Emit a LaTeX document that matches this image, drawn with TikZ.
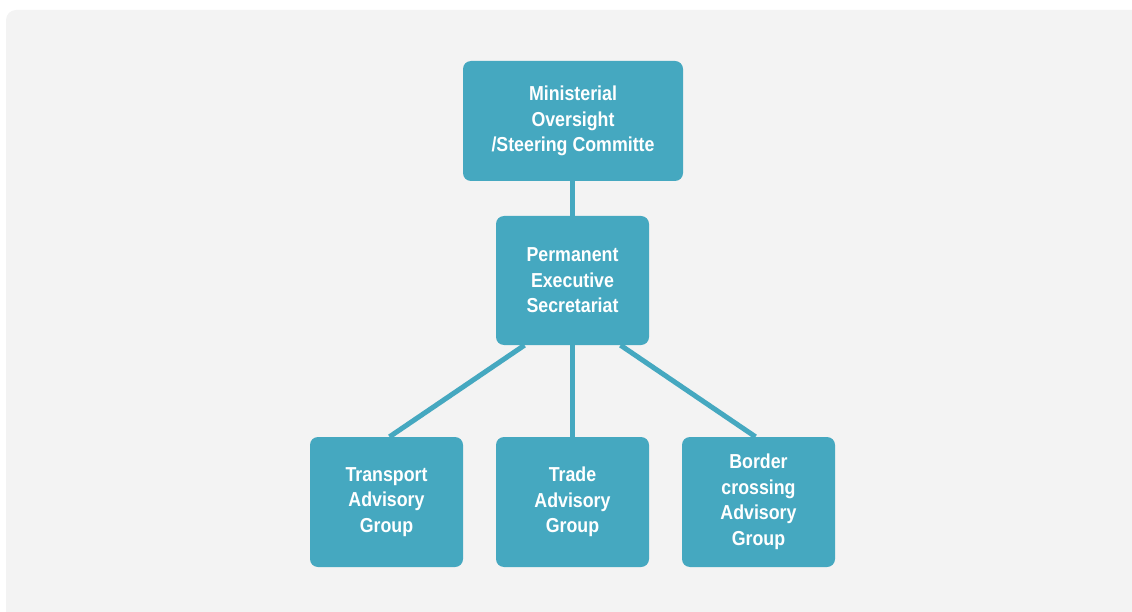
\documentclass[tikz,border=0pt]{standalone}
\usepackage{fontspec}
\setmainfont[FakeStretch=0.88]{Liberation Sans}
\definecolor{teal}{HTML}{45A8C0}
\definecolor{panel}{HTML}{F3F3F3}
\begin{document}
\begin{tikzpicture}[x=1pt,y=-1pt,
  box/.style={draw=none,fill=teal,rounded corners=8pt,text=white,
    font=\fontsize{20.2}{25.5}\selectfont\bfseries,align=center,inner sep=0pt},
  link/.style={draw=teal,line width=5pt}]
\useasboundingbox (0,0) rectangle (1132,612);
\fill[panel,rounded corners=10pt] (6,10) rectangle (1142,622);
\node[box,minimum width=220pt,minimum height=120pt] (mos) at (573,121) {Ministerial\\Oversight\\/Steering Committe};
\node[box,minimum width=153pt,minimum height=129pt] (pes) at (572.5,280.5) {Permanent\\Executive\\Secretariat};
\node[box,minimum width=153pt,minimum height=130pt] (tag) at (386.5,502) {Transport\\Advisory\\Group};
\node[box,minimum width=153pt,minimum height=130pt] (trg) at (572.5,502) {Trade\\Advisory\\Group};
\node[box,minimum width=153pt,minimum height=130pt] (bcg) at (758.5,502) {Border\\crossing\\Advisory\\Group};
\draw[link] (mos.south -| pes.north) -- (pes.north);
\draw[link] ([xshift=-48pt]pes.south) -- ([xshift=3pt]tag.north);
\draw[link] (pes.south) -- (trg.north);
\draw[link] ([xshift=48pt]pes.south) -- ([xshift=-3pt]bcg.north);
\end{tikzpicture}
\end{document}
